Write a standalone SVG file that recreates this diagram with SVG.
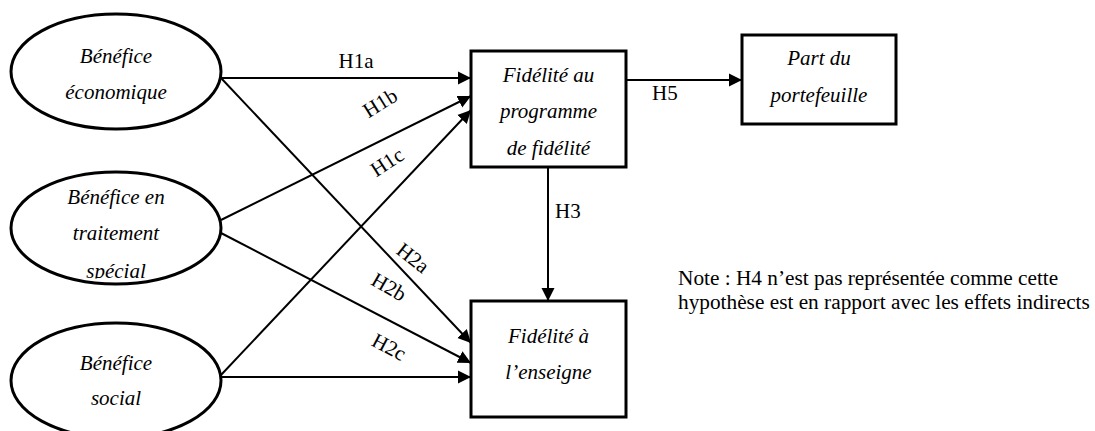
<svg xmlns="http://www.w3.org/2000/svg" width="1095" height="431" viewBox="0 0 1095 431">
<style>
text{font-family:"Liberation Serif","Times New Roman",serif;font-size:21px;fill:#000}
.it{font-style:italic}
.c{text-anchor:middle}
.note{font-size:21.3px}
.node{fill:#fff;stroke:#000;stroke-width:3}
.edge{stroke:#000;stroke-width:2;fill:none;marker-end:url(#ah)}
</style>
<defs>
<marker id="ah" markerWidth="14" markerHeight="14" viewBox="0 0 14 14" refX="13" refY="7" orient="auto" markerUnits="userSpaceOnUse">
<path d="M0,0.5 L13,7 L0,13.5 Z" fill="#000"/>
</marker>
<clipPath id="clipE2"><rect x="0" y="160" width="240" height="118.5"/></clipPath>
</defs>
<rect width="1095" height="431" fill="#fff"/>
<g id="n-eco">
<ellipse class="node" cx="116" cy="71.5" rx="105" ry="57.5"/>
<text class="it c" x="116" y="63">Bénéfice</text>
<text class="it c" x="116" y="99">économique</text>
</g>
<g id="n-trait">
<ellipse class="node" cx="116" cy="228" rx="105" ry="56"/>
<g clip-path="url(#clipE2)">
<text class="it c" x="116" y="204">Bénéfice en</text>
<text class="it c" x="116" y="240">traitement</text>
<text class="it c" x="116" y="278">spécial</text>
</g>
</g>
<g id="n-social">
<ellipse class="node" cx="116" cy="380.5" rx="105" ry="57.5"/>
<text class="it c" x="116" y="370">Bénéfice</text>
<text class="it c" x="116" y="405">social</text>
</g>
<g id="n-fidprog">
<rect class="node" x="471" y="51" width="155" height="116"/>
<text class="it c" x="548.5" y="82">Fidélité au</text>
<text class="it c" x="548.5" y="118">programme</text>
<text class="it c" x="548.5" y="155">de fidélité</text>
</g>
<g id="n-part">
<rect class="node" x="742" y="35" width="154" height="89"/>
<text class="it c" x="819" y="65">Part du</text>
<text class="it c" x="819" y="102">portefeuille</text>
</g>
<g id="n-fidens">
<rect class="node" x="471" y="301" width="155" height="116"/>
<text class="it c" x="548.5" y="343">Fidélité à</text>
<text class="it c" x="548.5" y="379">l’enseigne</text>
</g>
<g id="connectors">
<line class="edge" x1="221" y1="78" x2="471" y2="78"/>
<line class="edge" x1="221" y1="220" x2="471" y2="96"/>
<line class="edge" x1="221" y1="375" x2="471" y2="110"/>
<line class="edge" x1="221" y1="78" x2="471" y2="343"/>
<line class="edge" x1="221" y1="233" x2="471" y2="363"/>
<line class="edge" x1="221" y1="377" x2="471" y2="377"/>
<line class="edge" x1="626" y1="80" x2="742" y2="80"/>
<line class="edge" x1="548" y1="167" x2="548" y2="301"/>
</g>
<g id="labels">
<text class="c" x="356" y="68">H1a</text>
<text class="c" transform="translate(380,103) rotate(-32)" y="7">H1b</text>
<text class="c" transform="translate(387,162) rotate(-33)" y="7">H1c</text>
<text class="c" transform="translate(413,258) rotate(38)" y="7">H2a</text>
<text class="c" transform="translate(389,287) rotate(30)" y="7">H2b</text>
<text class="c" transform="translate(389,347) rotate(28)" y="7">H2c</text>
<text x="652" y="100">H5</text>
<text x="555" y="218">H3</text>
</g>
<g id="note">
<text class="note" x="678" y="285">Note : H4 n’est pas représentée comme cette</text>
<text class="note" x="678" y="309">hypothèse est en rapport avec les effets indirects</text>
</g>
</svg>
